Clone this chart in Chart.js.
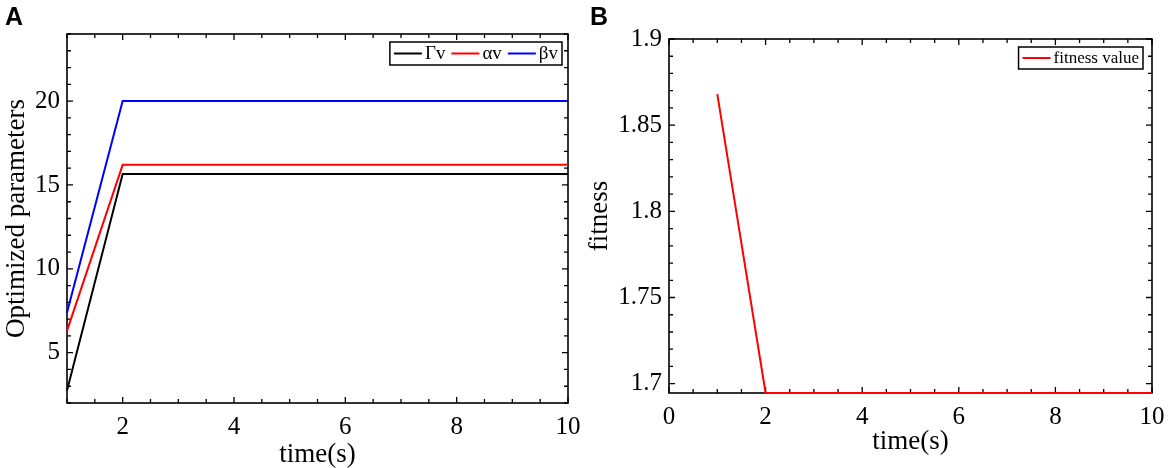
<!DOCTYPE html>
<html>
<head>
<meta charset="utf-8">
<script src="https://cdn.jsdelivr.net/npm/chart.js@4.4.1/dist/chart.umd.min.js"></script>
<style>
  html, body { margin: 0; padding: 0; background: #fff; }
  body { width: 1170px; height: 468px; position: relative; overflow: hidden; }
  .panel { position: absolute; top: 0; width: 585px; height: 468px; }
  .tag { position: absolute; top: 2px; font: bold 25px "Liberation Sans", Arial, sans-serif; }
</style>
</head>
<body>
<div class="panel" style="left:0"><canvas id="chartA" width="585" height="468"></canvas></div>
<div class="panel" style="left:585px"><canvas id="chartB" width="585" height="468"></canvas></div>
<div class="tag" style="left:5px">A</div>
<div class="tag" style="left:590px">B</div>
<script>
// time axis (s)
const timeS = [1, 2, 3, 4, 5, 6, 7, 8, 9, 10];

// panel A: optimized parameters
const gammaV = [2.75, 15.65, 15.65, 15.65, 15.65, 15.65, 15.65, 15.65, 15.65, 15.65];
const alphaV = [6.3, 16.2, 16.2, 16.2, 16.2, 16.2, 16.2, 16.2, 16.2, 16.2];
const betaV = [7.4, 20, 20, 20, 20, 20, 20, 20, 20, 20];
const labelsA = ['Γv', 'αv', 'βv'];

// panel B: fitness
const fitnessVals = [1.868, 1.6946, 1.6946, 1.6946, 1.6946, 1.6946, 1.6946, 1.6946, 1.6946, 1.6946];
const labelB = 'fitness value';

// tick labels
const xTicksA = [2, 4, 6, 8, 10];
const yTicksA = [5, 10, 15, 20];
const xTicksB = [0, 2, 4, 6, 8, 10];
const yTicksB = [1.7, 1.75, 1.8, 1.85, 1.9];

const SERIF = '"Liberation Serif", "Times New Roman", serif';

function pts(ys) {
    return timeS.map((t, i) => ({ x: t, y: ys[i] }));
}

// MATLAB-like box with inward ticks on all four sides, plus boxed legend
const boxPlugin = {
    id: 'matlabBox',
    beforeDatasetsDraw(chart, args, opts) {
        const { ctx, chartArea: a } = chart;
        ctx.save();
        ctx.strokeStyle = '#000';
        ctx.lineWidth = 1.3;
        const sx = chart.scales.x, sy = chart.scales.y;
        const mark = (scale, step, major, horiz) => {
            const first = Math.ceil(scale.min / step - 1e-6) * step;
            for (let v = first; v <= scale.max + 1e-9; v += step) {
                const isMajor = major.some(m => Math.abs(m - v) < step / 10);
                const len = isMajor ? 6 : 4;
                const p = scale.getPixelForValue(v);
                ctx.beginPath();
                if (horiz) {
                    ctx.moveTo(p, a.bottom); ctx.lineTo(p, a.bottom - len);
                    ctx.moveTo(p, a.top); ctx.lineTo(p, a.top + len);
                } else {
                    ctx.moveTo(a.left, p); ctx.lineTo(a.left + len, p);
                    ctx.moveTo(a.right, p); ctx.lineTo(a.right - len, p);
                }
                ctx.stroke();
            }
        };
        mark(sx, opts.xMinor, opts.xMajor, true);
        mark(sy, opts.yMinor, opts.yMajor, false);
        ctx.lineWidth = 1.6;
        ctx.strokeRect(a.left, a.top, a.right - a.left, a.bottom - a.top);
        ctx.restore();
    },
    afterDraw(chart, args, opts) {
        const { ctx, chartArea: a } = chart;
        ctx.save();
        ctx.font = opts.legendFont;
        const lineLen = 28, pad = 4, gap = 3, itemGap = 6;
        const items = chart.data.datasets.map(d => ({ label: d.label, color: d.borderColor, w: ctx.measureText(d.label).width }));
        let width = pad * 2;
        items.forEach((it, i) => { width += lineLen + gap + it.w + (i < items.length - 1 ? itemGap : 0); });
        const h = opts.legendH;
        const right = a.right - opts.legendRight;
        const left = right - width;
        const top = a.top + opts.legendTop;
        ctx.fillStyle = '#fff';
        ctx.fillRect(left, top, width, h);
        ctx.strokeStyle = '#000';
        ctx.lineWidth = 1.5;
        ctx.strokeRect(left, top, width, h);
        let x = left + pad;
        const cy = top + h / 2;
        items.forEach(it => {
            ctx.strokeStyle = it.color;
            ctx.lineWidth = 2;
            ctx.beginPath();
            ctx.moveTo(x, cy); ctx.lineTo(x + lineLen, cy);
            ctx.stroke();
            x += lineLen + gap;
            ctx.fillStyle = '#000';
            ctx.textBaseline = 'middle';
            ctx.fillText(it.label, x, cy + 1);
            x += it.w + itemGap;
        });
        ctx.restore();
    }
};

function makeChart(id, datasets, cfg) {
    const fixTicks = list => scale => { scale.ticks = list.map(v => ({ value: v })); };
    return new Chart(document.getElementById(id), {
        type: 'line',
        data: { datasets: datasets },
        plugins: [boxPlugin],
        options: {
            responsive: false,
            animation: false,
            clip: false,
            layout: { padding: { top: cfg.top, right: cfg.right, left: 0, bottom: cfg.bottom } },
            elements: { point: { radius: 0 }, line: { borderWidth: 2, tension: 0 } },
            plugins: {
                legend: { display: false },
                tooltip: { enabled: false },
                matlabBox: cfg.box
            },
            scales: {
                x: {
                    type: 'linear',
                    min: cfg.xMin, max: cfg.xMax,
                    afterBuildTicks: fixTicks(cfg.xTicks),
                    afterFit: s => { s.height = cfg.xH; s.paddingLeft = 0; s.paddingRight = 0; },
                    grid: { display: false, drawTicks: false },
                    border: { display: false },
                    ticks: { padding: 9, color: '#000', font: { family: SERIF, size: 25 }, maxRotation: 0 },
                    title: { display: true, text: 'time(s)', color: '#000', font: { family: SERIF, size: 27, lineHeight: 1 }, padding: 0 }
                },
                y: {
                    min: cfg.yMin, max: cfg.yMax,
                    afterBuildTicks: fixTicks(cfg.yTicks),
                    afterFit: s => { s.width = cfg.yW; s.paddingTop = 0; s.paddingBottom = 0; },
                    grid: { display: false, drawTicks: false },
                    border: { display: false },
                    ticks: { padding: 7, color: '#000', font: { family: SERIF, size: 25 }, callback: v => String(v) },
                    title: { display: true, text: cfg.yTitle, color: '#000', font: { family: SERIF, size: 27, lineHeight: 1 }, padding: { top: cfg.yTitlePad, bottom: 0 } }
                }
            }
        }
    });
}

makeChart('chartA', [
    { label: labelsA[0], data: pts(gammaV), borderColor: '#000000' },
    { label: labelsA[1], data: pts(alphaV), borderColor: '#ff0000' },
    { label: labelsA[2], data: pts(betaV), borderColor: '#0000ff' }
], {
    top: 34, right: 17, bottom: 0, xH: 65, yW: 67, yTitlePad: 3,
    xMin: 1, xMax: 10, yMin: 2, yMax: 24,
    xTicks: xTicksA, yTicks: yTicksA,
    yTitle: 'Optimized parameters',
    box: { xMinor: 0.5, yMinor: 1, xMajor: xTicksA, yMajor: yTicksA, legendFont: '19px ' + SERIF, legendH: 23, legendRight: 6, legendTop: 8 }
});

makeChart('chartB', [
    { label: labelB, data: pts(fitnessVals), borderColor: '#ff0000' }
], {
    top: 39, right: 18, bottom: 13, xH: 62, yW: 84, yTitlePad: 1,
    xMin: 0, xMax: 10, yMin: 1.6946, yMax: 1.9,
    xTicks: xTicksB, yTicks: yTicksB,
    yTitle: 'fitness',
    box: { xMinor: 0.5, yMinor: 0.01, xMajor: xTicksB, yMajor: yTicksB, legendFont: '17px ' + SERIF, legendH: 22, legendRight: 9, legendTop: 8 }
});
</script>
</body>
</html>
